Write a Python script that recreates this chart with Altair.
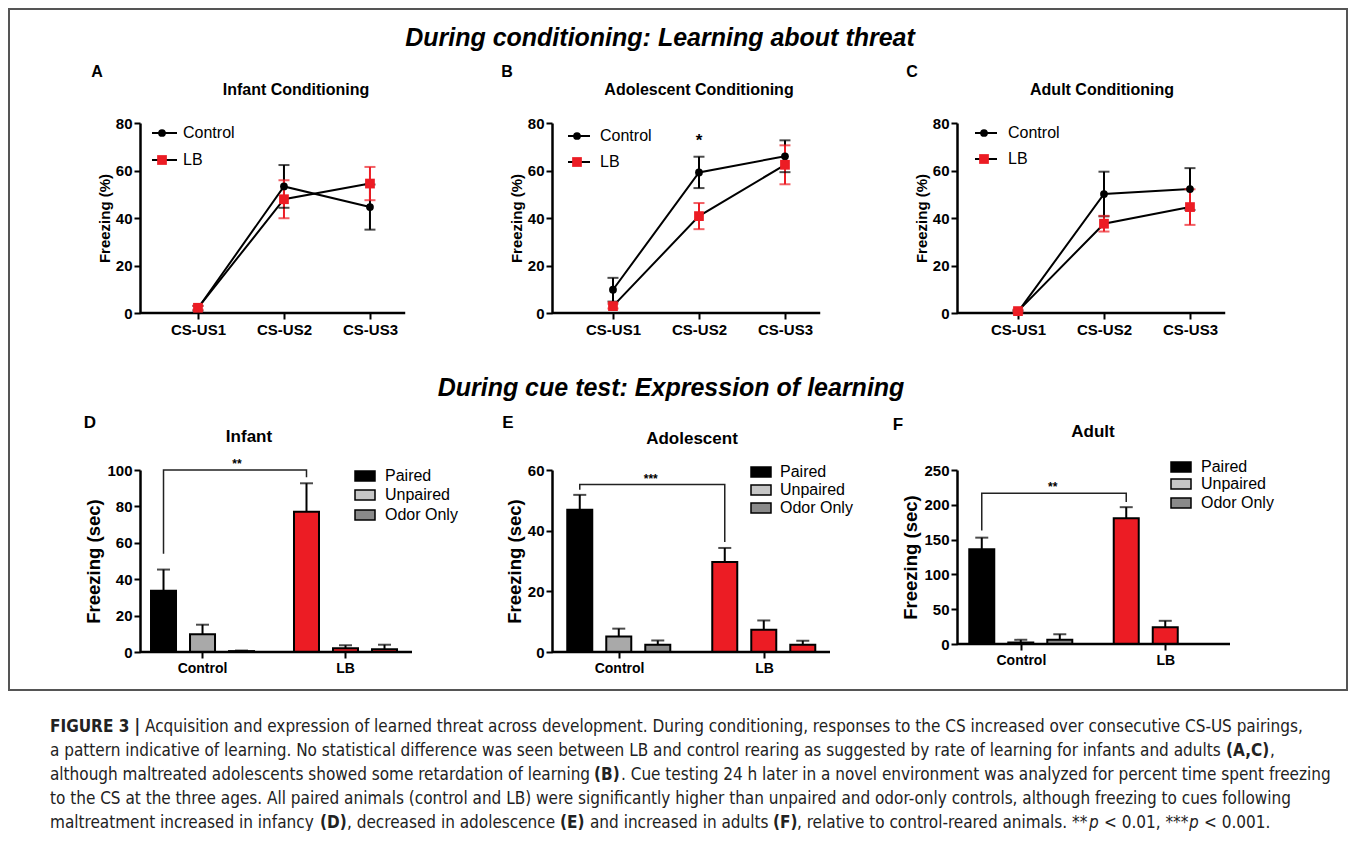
import altair as alt
import pandas as pd

FONT = "Liberation Sans, Arial, Helvetica, sans-serif"
CAP_FONT = "Liberation Sans Narrow, DejaVu Sans Condensed, Arial Narrow, sans-serif"
RED = "#ec1c24"

# ------------------------------------------------------------------ data
step_labels = ["CS-US1", "CS-US2", "CS-US3"]
series_names = ["Control", "LB"]

a_ctrl_mean = [2.0, 53.3, 44.6]
a_ctrl_sem = [1.0, 9.0, 9.5]
a_lb_mean = [2.2, 47.9, 54.5]
a_lb_sem = [0.8, 8.0, 7.0]

b_ctrl_mean = [9.8, 59.2, 66.0]
b_ctrl_sem = [5.0, 6.6, 6.7]
b_lb_mean = [2.9, 40.8, 62.4]
b_lb_sem = [1.0, 5.5, 8.2]
b_star_step = 2
b_star_y = 72.5

c_ctrl_mean = [0.5, 50.1, 52.2]
c_ctrl_sem = [0.5, 9.4, 8.8]
c_lb_mean = [0.8, 37.6, 44.6]
c_lb_sem = [0.6, 3.3, 7.5]

groups = ["Control", "LB"]
conds = ["Paired", "Unpaired", "Odor Only"]

d_ctrl = [33.6, 9.7, 0.5]
d_ctrl_err = [11.7, 5.3, 0.3]
d_lb = [77.0, 2.0, 1.5]
d_lb_err = [15.7, 1.7, 2.5]

e_ctrl = [46.9, 5.1, 2.4]
e_ctrl_err = [4.9, 2.6, 1.4]
e_lb = [29.7, 7.3, 2.4]
e_lb_err = [4.6, 3.1, 1.3]

f_ctrl = [136.0, 2.3, 6.0]
f_ctrl_err = [16.8, 3.7, 8.0]
f_lb = [180.7, 24.2]
f_lb_err = [15.9, 9.1]

bracket_groups = ["Control", "Control", "LB", "LB"]
d_bracket = [54.0, 100.0, 100.0, 96.0]
e_bracket = [53.5, 55.2, 55.2, 36.3]
f_bracket = [163.0, 216.7, 216.7, 204.0]

heading_1 = "During conditioning: Learning about threat"
heading_2 = "During cue test: Expression of learning"

caption = [
    [("FIGURE 3 |", "bold", "normal", 50),
     ("Acquisition and expression of learned threat across development. During conditioning, responses to the CS increased over consecutive CS-US pairings,", "normal", "normal", 145)],
    [("a pattern indicative of learning. No statistical difference was seen between LB and control rearing as suggested by rate of learning for infants and adults", "normal", "normal", 50),
     ("(A,C)", "bold", "normal", 1226), (",", "normal", "normal", 1270)],
    [("although maltreated adolescents showed some retardation of learning", "normal", "normal", 50),
     ("(B)", "bold", "normal", 594),
     (". Cue testing 24 h later in a novel environment was analyzed for percent time spent freezing", "normal", "normal", 621)],
    [("to the CS at the three ages. All paired animals (control and LB) were significantly higher than unpaired and odor-only controls, although freezing to cues following", "normal", "normal", 50)],
    [("maltreatment increased in infancy", "normal", "normal", 50),
     ("(D)", "bold", "normal", 320),
     (", decreased in adolescence", "normal", "normal", 347),
     ("(E)", "bold", "normal", 560),
     ("and increased in adults", "normal", "normal", 590),
     ("(F)", "bold", "normal", 773),
     (", relative to control-reared animals. **", "normal", "normal", 797),
     ("p", "normal", "italic", 1089),
     ("< 0.01, ***", "normal", "normal", 1104),
     ("p", "normal", "italic", 1189),
     ("< 0.001.", "normal", "normal", 1204)],
]

one = pd.DataFrame({"k": [0]})


def txt(x, y, s, size, weight="normal", style="normal", align="center",
        font=FONT, baseline="middle", color="black"):
    return alt.Chart(one).mark_text(
        text=s, fontSize=size, fontWeight=weight, fontStyle=style, align=align,
        baseline=baseline, font=font, color=color
    ).encode(x=alt.value(x), y=alt.value(y))


# ------------------------------------------------------------------ line panels
def line_panel(cm, cs, lm, ls, W, x0, leg, title, title_xy, letter, letter_xy,
               star=None, extra=()):
    H = 190
    rows = []
    for s, m, e in (("Control", cm, cs), ("LB", lm, ls)):
        for i, (mv, ev) in enumerate(zip(m, e)):
            rows.append(dict(series=s, step=i + 1, mean=mv, lo=mv - ev, hi=mv + ev))
    df = pd.DataFrame(rows)
    xs = alt.Scale(domain=[x0, x0 + W / 86.0], nice=False, zero=False)
    lab_expr = "[" + ",".join("'%s'" % t for t in step_labels) + "][datum.value - 1]"
    xaxis = alt.Axis(values=[1, 2, 3], labelExpr=lab_expr, domain=False, title=None,
                     labelFontSize=15, labelPadding=3, labelOverlap=False)
    X = alt.X("step:Q", scale=xs, axis=xaxis)
    ys = alt.Scale(domain=[0, 80], nice=False)
    yaxis = alt.Axis(values=[0, 20, 40, 60, 80], title="Freezing (%)", labelOverlap=False,
                     labelFontSize=15, titleFontSize=15, titlePadding=3)
    Y = alt.Y("mean:Q", scale=ys, axis=yaxis)
    YLO = alt.Y("lo:Q", scale=ys, axis=yaxis)
    YHI = alt.Y("hi:Q", scale=ys, axis=yaxis)
    color = alt.Color("series:N", scale=alt.Scale(domain=series_names, range=["black", RED]),
                      legend=None)
    base = alt.Chart(df)
    axis_df = pd.DataFrame({"step": [x0], "step2": [3.41]})
    layers = [
        alt.Chart(axis_df).mark_rule(color="black", strokeWidth=2.5).encode(
            x=X, x2="step2:Q", y=alt.value(H)),
        base.mark_line(color="black", strokeWidth=2).encode(x=X, y=Y, detail="series:N"),
        base.mark_rule(strokeWidth=2).encode(x=X, y=YLO, y2="hi:Q", color=color),
        base.mark_tick(orient="horizontal", size=11, thickness=2).encode(x=X, y=YLO, color=color),
        base.mark_tick(orient="horizontal", size=11, thickness=2).encode(x=X, y=YHI, color=color),
        base.transform_filter("datum.series == 'Control'").mark_point(
            shape="circle", filled=True, size=60, color="black", opacity=1).encode(x=X, y=Y),
        base.transform_filter("datum.series == 'LB'").mark_point(
            shape="square", filled=True, size=95, color=RED, opacity=1).encode(x=X, y=Y),
    ]
    if star is not None:
        sdf = pd.DataFrame({"step": [star[0]], "mean": [star[1]]})
        layers.append(alt.Chart(sdf).mark_text(text="*", fontSize=17, fontWeight="bold",
                                               font=FONT, color="black").encode(x=X, y=Y))
    lx0, lx1, mx, tx, r1, r2 = leg
    for name, yy, shape, col, size in (("Control", r1, "circle", "black", 60),
                                       ("LB", r2, "square", RED, 95)):
        layers.append(alt.Chart(one).mark_rule(color="black", strokeWidth=2).encode(
            x=alt.value(lx0), x2=alt.value(lx1), y=alt.value(yy)))
        layers.append(alt.Chart(one).mark_point(shape=shape, filled=True, size=size, color=col,
                                                opacity=1).encode(x=alt.value(mx), y=alt.value(yy)))
        layers.append(txt(tx, yy, name, 16, align="left"))
    layers.append(txt(title_xy[0], title_xy[1], title, 16, weight="bold"))
    layers.append(txt(letter_xy[0], letter_xy[1], letter, 16, weight="bold"))
    layers.extend(extra)
    return alt.layer(*layers).properties(width=W, height=H)


# ------------------------------------------------------------------ bar panels
bar_keys = ["Control|Paired", "Control|Unpaired", "Control|Odor Only",
            "LB|Paired", "LB|Unpaired", "LB|Odor Only"]
bar_fills = ["#000000", "#a9a9a9", "#8a8a8a", RED, RED, RED]
legend_fills = ["#000000", "#c6c6c6", "#8a8a8a"]


def bar_panel(cv, ce, lv, le, ydom, yticks, W, H, po, al, axis_len, bracket, star_text,
              star_dx, leg, title, title_xy, letter, letter_xy, extra=()):
    rows = []
    for g, vals, errs in (("Control", cv, ce), ("LB", lv, le)):
        for c, v, e in zip(conds, vals, errs):
            rows.append(dict(group=g, cond=c, val=v, top=v + e, key=g + "|" + c))
    df = pd.DataFrame(rows)
    X = alt.X("group:N",
              scale=alt.Scale(domain=groups, paddingInner=0.19, paddingOuter=po, align=al),
              axis=alt.Axis(title=None, domain=False, labelAngle=0, labelFontSize=14,
                            labelPadding=3))
    XO = alt.XOffset("cond:N", scale=alt.Scale(domain=conds, paddingInner=0.359,
                                               paddingOuter=0.164))
    ys = alt.Scale(domain=ydom, nice=False)
    yaxis = alt.Axis(values=yticks, title="Freezing (sec)", labelFontSize=15,
                     titleFontSize=18.5, titlePadding=3, labelOverlap=False)
    Y = alt.Y("val:Q", scale=ys, axis=yaxis)
    YT = alt.Y("top:Q", scale=ys, axis=yaxis)
    fill = alt.Fill("key:N", scale=alt.Scale(domain=bar_keys, range=bar_fills), legend=None)
    base = alt.Chart(df)
    bdf = pd.DataFrame({"group": bracket_groups, "cond": ["Paired"] * 4, "val": bracket,
                        "ord": [0, 1, 2, 3]})
    sdf = pd.DataFrame({"group": ["Control"], "cond": ["Odor Only"], "val": [bracket[1]]})
    layers = [
        base.mark_rule(strokeWidth=2, color="black").encode(x=X, xOffset=XO, y=Y, y2="top:Q"),
        base.mark_tick(orient="horizontal", size=13, thickness=2, color="black").encode(
            x=X, xOffset=XO, y=YT),
        base.mark_bar(stroke="black", strokeWidth=2).encode(x=X, xOffset=XO, y=Y, fill=fill),
        alt.Chart(one).mark_rule(color="black", strokeWidth=2.5).encode(
            x=alt.value(0), x2=alt.value(axis_len), y=alt.value(H)),
        alt.Chart(bdf).mark_line(color="#222", strokeWidth=1.5).encode(
            x=X, xOffset=XO, y=Y, order="ord:Q"),
        alt.Chart(sdf).mark_text(text=star_text, fontSize=12, fontWeight="bold", font=FONT,
                                 color="black", dx=star_dx, dy=-6).encode(
            x=X, xOffset=XO, y=Y),
    ]
    sx, tx, rws = leg
    for name, f, yy in zip(conds, legend_fills, rws):
        layers.append(alt.Chart(one).mark_rect(fill=f, stroke="black", strokeWidth=1.5).encode(
            x=alt.value(sx - 10), x2=alt.value(sx + 10), y=alt.value(yy - 5),
            y2=alt.value(yy + 5)))
        layers.append(txt(tx, yy, name, 16, align="left"))
    layers.append(txt(title_xy[0], title_xy[1], title, 17, weight="bold"))
    layers.append(txt(letter_xy[0], letter_xy[1], letter, 17, weight="bold"))
    layers.extend(extra)
    return alt.layer(*layers).properties(width=W, height=H)


# ------------------------------------------------------------------ annotations
box = alt.Chart(one).mark_rect(fill="white", fillOpacity=0, stroke="#555555",
                               strokeWidth=2).encode(
    x=alt.value(-131), x2=alt.value(1207), y=alt.value(-114), y2=alt.value(567))

cap_layers = []
for i, line in enumerate(caption):
    for s, w, st, px in line:
        cap_layers.append(txt(px - 140, 257 + 24 * i, s, 17, weight=w, style=st, align="left",
                              font=CAP_FONT, color="#222222"))

h1 = txt(108, -85, heading_1, 25, weight="bold", style="italic")
h2 = txt(119, -82, heading_2, 25, weight="bold", style="italic")

A = line_panel(a_ctrl_mean, a_ctrl_sem, a_lb_mean, a_lb_sem, 285, 0.326,
               (12, 37, 22, 43, 10, 37), "Infant Conditioning", (156, -33), "A", (-43, -51),
               extra=[box])
B = line_panel(b_ctrl_mean, b_ctrl_sem, b_lb_mean, b_lb_sem, 271, 0.291,
               (16, 38, 25, 48, 13, 39), "Adolescent Conditioning", (147, -33), "B", (-45, -51),
               star=(b_star_step, b_star_y), extra=[h1])
C = line_panel(c_ctrl_mean, c_ctrl_sem, c_lb_mean, c_lb_sem, 268, 0.291,
               (18, 40, 27, 51, 10, 36), "Adult Conditioning", (145, -33), "C", (-45, -51))

D = bar_panel(d_ctrl, d_ctrl_err, d_lb, d_lb_err, [0, 100], [0, 20, 40, 60, 80, 100],
              285, 182, 0.0916, 0.176, 272, d_bracket, "**", -4.5,
              (225, 245, [6, 25, 45]), "Infant", (109, -33), "D", (-50, -47),
              extra=cap_layers)
E = bar_panel(e_ctrl, e_ctrl_err, e_lb, e_lb_err, [0, 60], [0, 20, 40, 60],
              278, 182, 0.0536, 0.57, 278, e_bracket, "***", -7,
              (209, 228, [2, 20, 38]), "Adolescent", (140, -31), "E", (-44, -47),
              extra=[h2])
F = bar_panel(f_ctrl, f_ctrl_err, f_lb, f_lb_err, [0, 250], [0, 50, 100, 150, 200, 250],
              273, 174, 0.0398, 0.51, 273, f_bracket, "**", -7,
              (224, 244, [-3, 14, 33]), "Adult", (136, -38), "F", (-59, -45))

chart = alt.concat(A, B, C, D, E, F, columns=3, spacing={"row": 157, "column": 127},
                   bounds="flush", align="none").properties(
    padding=0, background="white"
).configure_axis(
    labelFont=FONT, titleFont=FONT, labelFontWeight="bold", titleFontWeight="bold",
    labelColor="black", titleColor="black", domainColor="black", tickColor="black",
    domainWidth=2.5, tickWidth=2, tickSize=6, grid=False
).configure_view(stroke=None)

chart.save("out.html", embed_options={"renderer": "svg", "actions": False})
